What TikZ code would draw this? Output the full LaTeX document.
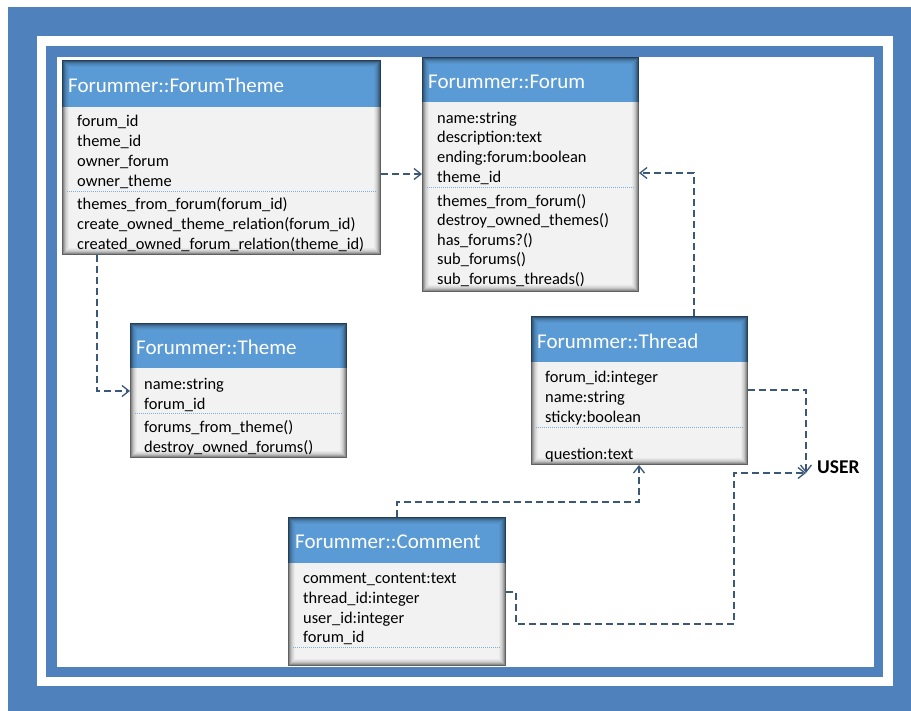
\documentclass[tikz,border=0pt]{standalone}
\usepackage{fontspec}
\setmainfont{Carlito}
\usetikzlibrary{arrows.meta,calc,fit}
\definecolor{frameblue}{HTML}{4F81BD}
\definecolor{headblue}{HTML}{5B9BD5}
\definecolor{bodygray}{HTML}{F2F2F2}
\definecolor{connblue}{HTML}{3B5878}
\definecolor{sepblue}{HTML}{7FAEDB}
\tikzset{
  rowtext/.style={anchor=base west, inner sep=0pt, yshift=-1.5pt, font=\fontsize{16.4}{20}\selectfont, text=black},
  headtext/.style={anchor=base west, inner sep=0pt, yshift=-0.5pt, font=\fontsize{21}{25}\selectfont, text=white},
  usertext/.style={anchor=west, inner sep=0pt, font=\fontsize{19.5}{23}\selectfont\bfseries, text=black},
  sepline/.style={draw=sepblue, line width=0.9pt, dash pattern=on 1pt off 1pt},
  conn/.style={draw=connblue, line width=1.3pt, dash pattern=on 7pt off 4pt,
    -{Straight Barb[length=7pt,width=11pt,line width=1.3pt]}},
}
\newcommand\classbox[6]{%
  \coordinate (#1-nw) at (#2,#3);
  \coordinate (#1-se) at (#4,#5);
  \node[fit=(#1-nw)(#1-se), inner sep=0pt, outer sep=0pt, fill=bodygray] (#1) {};
  \fill[headblue] (#2,#3) rectangle (#4,#6);
  \foreach \ii/\sh in {0/0.6,1/0.42,2/0.3,3/0.2,4/0.13,5/0.08,6/0.04}{%
    \draw[black, draw opacity=\sh, line width=1pt] ($(#1-nw)+(\ii+0.5,\ii+0.5)$) rectangle ($(#1-se)-(\ii+0.5,\ii+0.5)$);
  }%
}
\begin{document}
\begin{tikzpicture}[x=1pt,y=-1pt]
\useasboundingbox (0,0) rectangle (911,711);
\fill[white] (0,0) rectangle (911,711);
% frame
\fill[frameblue] (8,7) rectangle (911,711);
\fill[white] (37,36) rectangle (893,686);
\fill[frameblue] (46,46) rectangle (883,677);
\fill[white] (57,57) rectangle (874,667);

% ForumTheme
\classbox{ft}{62}{60}{381}{255}{107}
\node[headtext] (ft-h) at (68,92) {Forummer::ForumTheme};
\node[rowtext] (ft-1) at (77,125) {forum\_id};
\node[rowtext] (ft-2) at (77,145) {theme\_id};
\node[rowtext] (ft-3) at (77,165) {owner\_forum};
\node[rowtext] (ft-4) at (77,185) {owner\_theme};
\draw[sepline] (67,191) -- (376,191);
\node[rowtext] (ft-5) at (77,208) {themes\_from\_forum(forum\_id)};
\node[rowtext] (ft-6) at (77,228) {create\_owned\_theme\_relation(forum\_id)};
\node[rowtext] (ft-7) at (77,248) {created\_owned\_forum\_relation(theme\_id)};

% Forum
\classbox{fo}{422}{57}{639}{292}{102}
\node[headtext] (fo-h) at (428,88) {Forummer::Forum};
\node[rowtext] (fo-1) at (437,122) {name:string};
\node[rowtext] (fo-2) at (437,141.5) {description:text};
\node[rowtext] (fo-3) at (437,161) {ending:forum:boolean};
\node[rowtext] (fo-4) at (437,181) {theme\_id};
\draw[sepline] (427,187) -- (634,187);
\node[rowtext] (fo-5) at (437,205) {themes\_from\_forum()};
\node[rowtext] (fo-6) at (437,224.5) {destroy\_owned\_themes()};
\node[rowtext] (fo-7) at (437,244) {has\_forums?()};
\node[rowtext] (fo-8) at (437,263.5) {sub\_forums()};
\node[rowtext] (fo-9) at (437,283) {sub\_forums\_threads()};

% Theme
\classbox{th}{130}{323}{347}{458}{368}
\node[headtext] (th-h) at (136,354) {Forummer::Theme};
\node[rowtext] (th-1) at (144,388) {name:string};
\node[rowtext] (th-2) at (144,408) {forum\_id};
\draw[sepline] (135,413) -- (342,413);
\node[rowtext] (th-3) at (144,431) {forums\_from\_theme()};
\node[rowtext] (th-4) at (144,451) {destroy\_owned\_forums()};

% Thread
\classbox{tr}{531}{316}{748}{465}{362}
\node[headtext] (tr-h) at (537,348) {Forummer::Thread};
\node[rowtext] (tr-1) at (545,381) {forum\_id:integer};
\node[rowtext] (tr-2) at (545,401) {name:string};
\node[rowtext] (tr-3) at (545,421) {sticky:boolean};
\draw[sepline] (536,427) -- (743,427);
\node[rowtext] (tr-4) at (545,458) {question:text};

% Comment
\classbox{cm}{288}{517}{506}{666}{563}
\node[headtext] (cm-h) at (295,548) {Forummer::Comment};
\node[rowtext] (cm-1) at (303,582) {comment\_content:text};
\node[rowtext] (cm-2) at (303,601.5) {thread\_id:integer};
\node[rowtext] (cm-3) at (303,621.5) {user\_id:integer};
\node[rowtext] (cm-4) at (303,640.5) {forum\_id};
\draw[sepline] (293,647) -- (501,647);

% USER
\node[usertext] (user) at (817,467) {USER};
\coordinate (uin) at (806,473);

% connectors
\draw[conn] (ft.east |- 0,174) -- (fo.west |- 0,174);
\draw[conn] (ft.south -| 97,0) |- (th.west |- 0,391);
\draw[conn] (tr.north -| 694,0) |- (fo.east |- 0,173);
\draw[conn] (tr.east |- 0,390) -| (uin);
\draw[conn] (cm.north -| 397,0) -- ++(0,-15) -| (tr.south -| 639,0);
\draw[conn] (cm.east |- 0,592) -- ++(10,0) |- (734,624) |- (uin);
\end{tikzpicture}
\end{document}
